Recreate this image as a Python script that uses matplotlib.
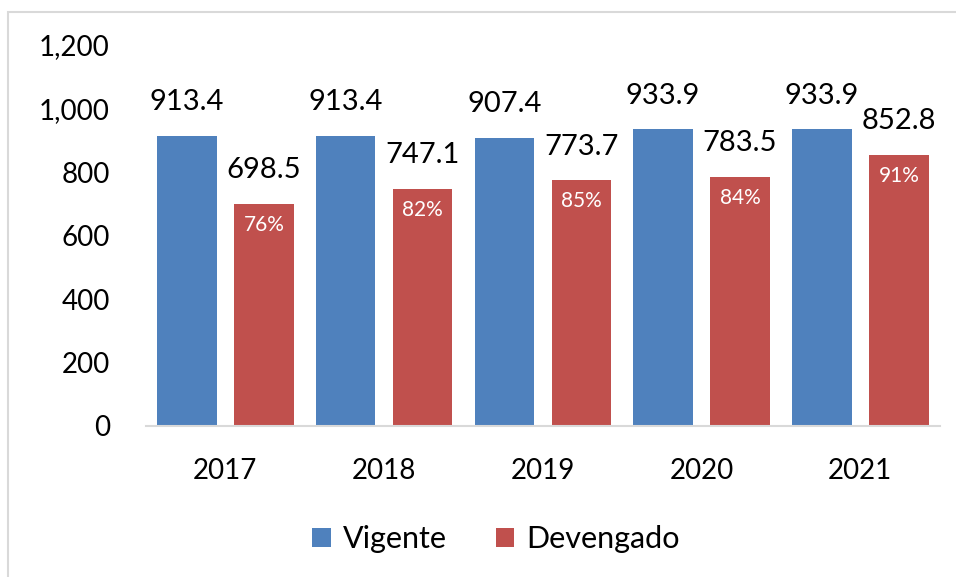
import matplotlib.pyplot as plt
import numpy as np
from matplotlib.patches import Rectangle

years = ['2017', '2018', '2019', '2020', '2021']
vigente = [913.4, 913.4, 907.4, 933.9, 933.9]
devengado = [698.5, 747.1, 773.7, 783.5, 852.8]
pct = ['76%', '82%', '85%', '84%', '91%']

blue = '#4F81BD'
red = '#C0504D'

plt.rcParams['font.family'] = ['Lato', 'DejaVu Sans']

fig = plt.figure(figsize=(9.56, 5.77), dpi=100)
ax = fig.add_axes([0.1527, 0.2617, 0.8303, 0.6603])

# frame round the chart
fig.patches.append(Rectangle((8 / 956, -0.1), 1.2, 1 - 12 / 577 + 0.1, transform=fig.transFigure,
                             fill=False, edgecolor='#D9D9D9', linewidth=1.5))

x = np.arange(len(years))
w = 0.375
off = 0.2425
b1 = ax.bar(x - off, vigente, w, color=blue, label='Vigente')
b2 = ax.bar(x + off, devengado, w, color=red, label='Devengado')

for xi, v in zip(x, vigente):
    ax.annotate(f'{v:.1f}', (xi - off, v), xytext=(0, 15), textcoords='offset points',
                ha='center', va='bottom', fontsize=21, clip_on=False)
for xi, v, p in zip(x, devengado, pct):
    ax.annotate(f'{v:.1f}', (xi + off, v), xytext=(0, 15), textcoords='offset points',
                ha='center', va='bottom', fontsize=21, clip_on=False)
    ax.annotate(p, (xi + off, v), xytext=(0, -15), textcoords='offset points',
                ha='center', va='center', fontsize=15, color='white')

ax.set_ylim(0, 1200)
ax.set_xlim(-0.5, len(years) - 0.5)
ax.set_yticks(range(0, 1201, 200))
ax.set_yticklabels([f'{t:,}' for t in range(0, 1201, 200)])
ax.set_xticks(x)
ax.set_xticklabels(years)
ax.tick_params(axis='y', length=0, pad=26, labelsize=20)
ax.tick_params(axis='x', length=0, pad=23, labelsize=20)
for s in ['top', 'right', 'left']:
    ax.spines[s].set_visible(False)
ax.spines['bottom'].set_color('#D9D9D9')
ax.spines['bottom'].set_linewidth(1.5)

fig.legend(handles=[b1, b2], loc='center', bbox_to_anchor=(0.519, 0.065), ncol=2,
           frameon=False, fontsize=22, handlelength=0.6, handleheight=0.6,
           handletextpad=0.4, columnspacing=1.6)

fig.savefig('out.png', dpi=100)
